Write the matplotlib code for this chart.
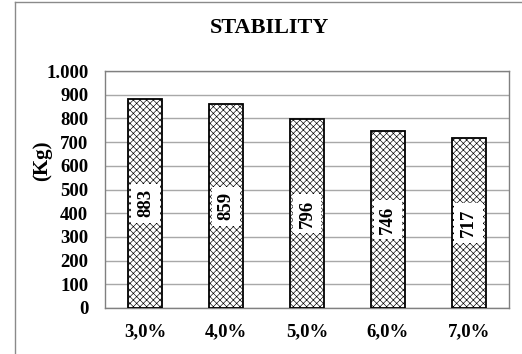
import matplotlib
matplotlib.use("Agg")
import matplotlib.pyplot as plt
from matplotlib.lines import Line2D
from matplotlib.ticker import FuncFormatter

categories = ["3,0%", "4,0%", "5,0%", "6,0%", "7,0%"]
stability = [883, 859, 796, 746, 717]
y_ticks = list(range(0, 1001, 100))

plt.rcParams["font.family"] = ["Liberation Serif", "DejaVu Serif"]
plt.rcParams["font.weight"] = "bold"
plt.rcParams["hatch.linewidth"] = 0.45

fig = plt.figure(figsize=(5.22, 3.54), dpi=100)
W, H = 522, 354
ax = fig.add_axes([105 / W, (H - 308) / H, 404 / W, 237 / H])

x = range(len(categories))
bars = ax.bar(x, stability, width=0.42, color="white", edgecolor="black",
              linewidth=1.3, hatch="xxxxx", zorder=3)

for rect, v in zip(bars, stability):
    ax.text(rect.get_x() + rect.get_width() / 2, v / 2, f"{v}",
            rotation=90, ha="center", va="center", fontsize=13.5,
            fontweight="bold", zorder=5,
            bbox=dict(boxstyle="square,pad=0.3", fc="white", ec="none"))

ax.set_xlim(-0.5, len(categories) - 0.5)
ax.set_ylim(0, 1000)
ax.set_yticks(y_ticks)
ax.yaxis.set_major_formatter(FuncFormatter(
    lambda v, p: f"{int(v):,}".replace(",", ".")))
ax.set_xticks(list(x))
ax.set_xticklabels(categories)
ax.tick_params(axis="both", length=0, labelsize=13.5)
ax.tick_params(axis="y", pad=12)
ax.tick_params(axis="x", pad=11)
ax.grid(axis="y", color="#a8a8a8", linewidth=1.0, zorder=0)
for s in ax.spines.values():
    s.set_color("#808080")
    s.set_linewidth(1.0)

ax.set_ylabel("(Kg)", fontsize=15, fontweight="bold")
ax.yaxis.set_label_coords((52 - 105) / 404, (308 - 161) / 237)
fig.text(269 / W, 1 - 28 / H, "STABILITY", ha="center", va="center",
         fontsize=16, fontweight="bold")

# chart-area border (top and left edges)
fig.add_artist(Line2D([15 / W, 1.0], [1 - 2 / H, 1 - 2 / H],
                      transform=fig.transFigure, color="#8a8a8a", lw=1.0))
fig.add_artist(Line2D([15 / W, 15 / W], [0, 1 - 2 / H],
                      transform=fig.transFigure, color="#8a8a8a", lw=1.0))

fig.savefig("out.png", dpi=100)
